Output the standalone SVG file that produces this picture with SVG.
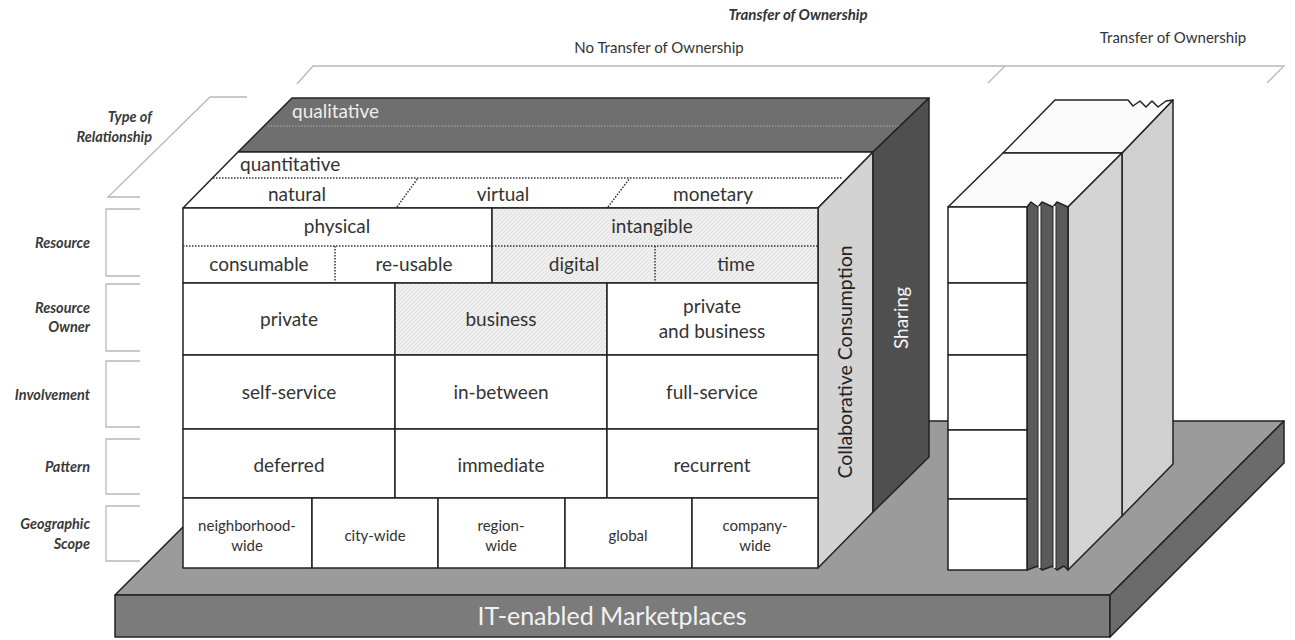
<svg xmlns="http://www.w3.org/2000/svg" width="1295" height="640" viewBox="0 0 1295 640">
<defs>
<pattern id="hatch" patternUnits="userSpaceOnUse" width="4" height="4">
<rect width="4" height="4" fill="#efefef"/>
<path d="M-1,1 L1,-1 M0,4 L4,0 M3,5 L5,3" stroke="#dadada" stroke-width="0.8"/>
</pattern>
</defs>
<style>
.t{font-family:Lato,"Open Sans","Liberation Sans",sans-serif;fill:#333;text-anchor:middle}
.c{font-size:19px}
.g{font-size:15px}
.lab{font-family:Lato,"Open Sans","Liberation Sans",sans-serif;font-style:italic;font-weight:bold;font-size:14.5px;fill:#3a3a3a;text-anchor:end}
.brk{fill:none;stroke:#b8b8b8;stroke-width:1.3}
.edge{stroke:#222;stroke-width:1.5;stroke-linejoin:round}
.dot{stroke:#333;stroke-width:1.5;stroke-dasharray:1.5 1.5;fill:none}
.w{fill:#ffffff}
.h{fill:url(#hatch)}
</style>
<rect width="1295" height="640" fill="#ffffff"/>

<g id="top-labels">
<polyline class="brk" points="297,84 313,66 1284,66 1267,83"/>
<line class="brk" x1="1005" y1="66" x2="988" y2="83"/>
<text class="t" x="798" y="20" style="font-size:15px;font-style:italic;font-weight:bold;fill:#333">Transfer of Ownership</text>
<text class="t" x="659" y="53" style="font-size:15px">No Transfer of Ownership</text>
<text class="t" x="1173" y="43" style="font-size:15px">Transfer of Ownership</text>
</g>

<g id="left-labels">
<polyline class="brk" points="247,97 210,97 108,197 140,197"/>
<text class="lab" x="152" y="122">Type of</text>
<text class="lab" x="152" y="142">Relationship</text>
<polyline class="brk" points="140,209 106,209 106,276 140,276"/>
<text class="lab" x="90" y="248">Resource</text>
<polyline class="brk" points="140,284 106,284 106,351 140,351"/>
<text class="lab" x="90" y="313">Resource</text>
<text class="lab" x="90" y="332">Owner</text>
<polyline class="brk" points="140,361 106,361 106,427 140,427"/>
<text class="lab" x="90" y="400">Involvement</text>
<polyline class="brk" points="140,439 106,439 106,494 140,494"/>
<text class="lab" x="90" y="472">Pattern</text>
<polyline class="brk" points="140,506 106,506 106,561 140,561"/>
<text class="lab" x="90" y="529">Geographic</text>
<text class="lab" x="90" y="549">Scope</text>
</g>

<g id="base">
<polygon class="edge" points="115,595 289,421 1284,421 1110,595" fill="#9b9b9b"/>
<rect class="edge" x="115" y="595" width="995" height="42" fill="#7b7b7b"/>
<polygon class="edge" points="1110,595 1284,421 1284,463 1110,637" fill="#6b6b6b"/>
<text class="t" x="612" y="625" style="font-size:25px;fill:#f2f2f2">IT-enabled Marketplaces</text>
</g>

<g id="main-cube">
<polygon class="edge" points="238,152 292,98 929,98 873,152" fill="#6f6f6f"/>
<line x1="268" y1="126" x2="900" y2="126" stroke="#9a9a9a" stroke-width="1.3" stroke-dasharray="1.5 1.5"/>
<text class="t c" x="292" y="118" style="text-anchor:start;fill:#eeeeee">qualitative</text>
<polygon class="edge w" points="183,208 238,152 873,152 818,208"/>
<line class="dot" x1="213" y1="178" x2="843" y2="178"/>
<line class="dot" x1="397" y1="207" x2="418" y2="178"/>
<line class="dot" x1="608" y1="207" x2="630" y2="178"/>
<text class="t c" x="240" y="171" style="text-anchor:start">quantitative</text>
<text class="t c" x="297" y="201">natural</text>
<text class="t c" x="503" y="201">virtual</text>
<text class="t c" x="713" y="201">monetary</text>
<polygon class="edge" points="818,208 873,152 873,512 818,568" fill="#d3d3d3"/>
<polygon class="edge" points="873,152 929,98 929,457 873,512" fill="#4f4f4f"/>
<text class="t" transform="translate(852,362) rotate(-90)" style="font-size:19.5px;fill:#222">Collaborative Consumption</text>
<text class="t" transform="translate(908,318) rotate(-90)" style="font-size:19px;fill:#f5f5f5">Sharing</text>
</g>

<g id="resource-row">
<rect class="edge w" x="183" y="208" width="309" height="75"/>
<rect class="edge h" x="492" y="208" width="326" height="75"/>
<line class="dot" x1="183" y1="246" x2="818" y2="246"/>
<line class="dot" x1="335" y1="246" x2="335" y2="283"/>
<line class="dot" x1="655" y1="246" x2="655" y2="283"/>
<text class="t c" x="337" y="233">physical</text>
<text class="t c" x="652" y="233">intangible</text>
<text class="t c" x="259" y="271">consumable</text>
<text class="t c" x="414" y="271">re-usable</text>
<text class="t c" x="574" y="271">digital</text>
<text class="t c" x="736" y="271">time</text>
</g>

<g id="owner-row">
<rect class="edge w" x="183" y="283" width="212" height="72"/>
<rect class="edge h" x="395" y="283" width="212" height="72"/>
<rect class="edge w" x="607" y="283" width="211" height="72"/>
<text class="t c" x="289" y="326">private</text>
<text class="t c" x="501" y="326">business</text>
<text class="t c" x="712" y="313">private</text>
<text class="t c" x="712" y="338">and business</text>
</g>

<g id="involvement-row">
<rect class="edge w" x="183" y="355" width="212" height="74"/>
<rect class="edge w" x="395" y="355" width="212" height="74"/>
<rect class="edge w" x="607" y="355" width="211" height="74"/>
<text class="t c" x="289" y="399">self-service</text>
<text class="t c" x="501" y="399">in-between</text>
<text class="t c" x="712" y="399">full-service</text>
</g>

<g id="pattern-row">
<rect class="edge w" x="183" y="429" width="212" height="69"/>
<rect class="edge w" x="395" y="429" width="212" height="69"/>
<rect class="edge w" x="607" y="429" width="211" height="69"/>
<text class="t c" x="289" y="472">deferred</text>
<text class="t c" x="501" y="472">immediate</text>
<text class="t c" x="712" y="472">recurrent</text>
</g>

<g id="scope-row">
<rect class="edge w" x="183" y="498" width="129" height="70"/>
<rect class="edge w" x="312" y="498" width="126" height="70"/>
<rect class="edge w" x="438" y="498" width="127" height="70"/>
<rect class="edge w" x="565" y="498" width="127" height="70"/>
<rect class="edge w" x="692" y="498" width="126" height="70"/>
<text class="t g" x="247" y="531">neighborhood-</text>
<text class="t g" x="247" y="551">wide</text>
<text class="t g" x="375" y="541">city-wide</text>
<text class="t g" x="501" y="531">region-</text>
<text class="t g" x="501" y="551">wide</text>
<text class="t g" x="628" y="541">global</text>
<text class="t g" x="755" y="531">company-</text>
<text class="t g" x="755" y="551">wide</text>
</g>

<g id="transfer-block">
<polygon class="edge" points="1122,153 1173,100 1173,464 1122,516" fill="#d0d0d0"/>
<polygon class="edge" points="1003,153 1055,100 1128,100 1133,106 1140,101 1146,107 1152,101 1158,107 1166,101 1173,100 1122,153" fill="#fafafa"/>
<polygon class="edge" points="948,207 1003,153 1122,153 1068,207" fill="#fafafa"/>
<polygon class="edge" points="1068,207 1122,153 1122,516 1068,570" fill="#d4d4d4"/>
<polygon class="edge" points="1027,207 1031,202 1038,207 1042,202 1053,207 1057,202 1068,207 1068,570 1064,566 1057,570 1053,566 1042,570 1038,566 1027,570" fill="#5a5a5a"/>
<line x1="1039.5" y1="206" x2="1039.5" y2="568" stroke="#ffffff" stroke-width="2.5"/>
<line x1="1054.5" y1="206" x2="1054.5" y2="568" stroke="#ffffff" stroke-width="2.5"/>
<line x1="1038" y1="206" x2="1038" y2="568" stroke="#222" stroke-width="0.8"/>
<line x1="1041" y1="206" x2="1041" y2="568" stroke="#222" stroke-width="0.8"/>
<line x1="1053" y1="206" x2="1053" y2="568" stroke="#222" stroke-width="0.8"/>
<line x1="1056" y1="206" x2="1056" y2="568" stroke="#222" stroke-width="0.8"/>
<rect class="edge w" x="948" y="207" width="79" height="76"/>
<rect class="edge w" x="948" y="283" width="79" height="72"/>
<rect class="edge w" x="948" y="355" width="79" height="75"/>
<rect class="edge w" x="948" y="430" width="79" height="69"/>
<rect class="edge w" x="948" y="499" width="79" height="71"/>
</g>
</svg>
